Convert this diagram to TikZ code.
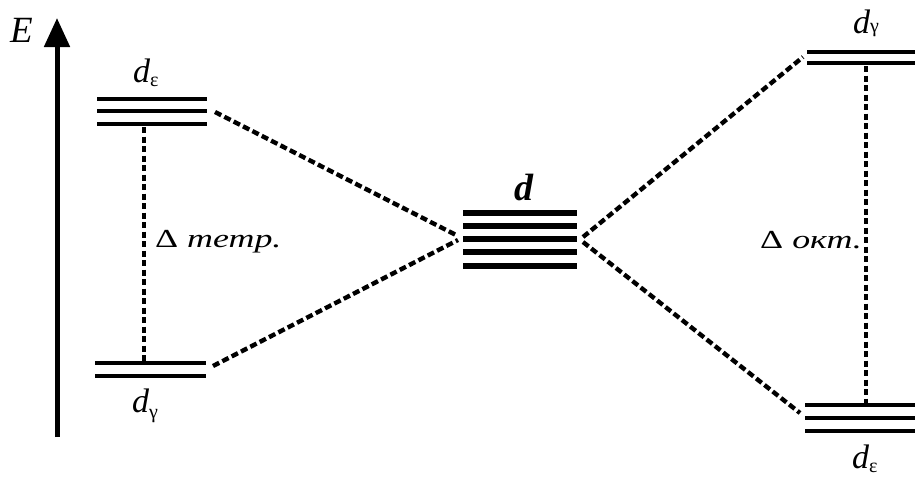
\documentclass[tikz,border=0pt]{standalone}
\usepackage{fontspec}
\setmainfont{Liberation Serif}
\newfontfamily\widefont[FakeStretch=1.38]{Liberation Serif}
\usetikzlibrary{arrows.meta}
\newcommand\dlab[2]{{\itshape d}\raisebox{#2}{\fontsize{20}{20}\selectfont #1}}
\tikzset{
  level/.style={line width=4.3pt},
  midlevel/.style={line width=5.2pt},
  conn/.style={line width=4.4pt, dash pattern=on 7pt off 3.5pt},
  gapline/.style={line width=3.6pt, dash pattern=on 6pt off 3.5pt},
  lbl/.style={inner sep=0pt, anchor=base west, font=\fontsize{34}{34}\selectfont},
  dlt/.style={inner sep=0pt, anchor=base west, font=\widefont\fontsize{26}{26}\selectfont}
}
\begin{document}
\begin{tikzpicture}[x=1pt,y=-1pt]
\useasboundingbox (0,0) rectangle (915,482);
% energy axis
\coordinate (axb) at (57,437);
\coordinate (axt) at (57,18);
\draw[line width=5pt, -{Triangle[width=25pt,length=29pt]}] (axb) -- (axt);
\node[inner sep=0pt, anchor=base west, font=\fontsize{37}{37}\selectfont\itshape] (E) at (10,42) {E};

% left top levels (d_eps, tetrahedral)
\foreach \y in {99,111,124} \draw[level] (97,\y) -- (207,\y);
% left bottom levels (d_gamma, tetrahedral)
\foreach \y in {363,376} \draw[level] (95,\y) -- (206,\y);
% middle d levels
\foreach \y in {213,226,239,252,266} \draw[midlevel] (463,\y) -- (577,\y);
% right top levels (d_gamma, octahedral)
\foreach \y in {52,63} \draw[level] (807,\y) -- (915,\y);
% right bottom levels (d_eps, octahedral)
\foreach \y in {405,418,431} \draw[level] (805,\y) -- (915,\y);

% labels
\node[lbl] (lde) at (133,82) {\dlab{ε}{-0.12em}};
\node[lbl] (ldg) at (132,412) {\dlab{γ}{-0.2em}};
\node[lbl] (rdg) at (853,33) {\dlab{γ}{0.02em}};
\node[lbl] (rde) at (852,468) {\dlab{ε}{-0.12em}};
\node[inner sep=0pt, anchor=base west, font=\fontsize{38}{38}\selectfont\bfseries\itshape] (md) at (514,200) {d};
\node[dlt] (dt) at (155,247) {Δ \textit{тетр.}};
\node[dlt] (do) at (760,248) {Δ \textit{окт.}};

% connector end points
\coordinate (ltR) at (215,112);
\coordinate (lbR) at (213,366);
\coordinate (mL1) at (458,236);
\coordinate (mL2) at (458,240);
\coordinate (mR1) at (583,237);
\coordinate (mR2) at (583,242);
\coordinate (rtL) at (803,57);
\coordinate (rbL) at (800,413);
\draw[conn] (ltR) -- (mL1);
\draw[conn] (lbR) -- (mL2);
\draw[conn] (mR1) -- (rtL);
\draw[conn] (mR2) -- (rbL);

% splitting gaps
\coordinate (gl1) at (144,127);
\coordinate (gl2) at (144,361);
\coordinate (gr1) at (866,66);
\coordinate (gr2) at (866,403);
\draw[gapline] (gl1) -- (gl2);
\draw[gapline] (gr1) -- (gr2);
\end{tikzpicture}
\end{document}
